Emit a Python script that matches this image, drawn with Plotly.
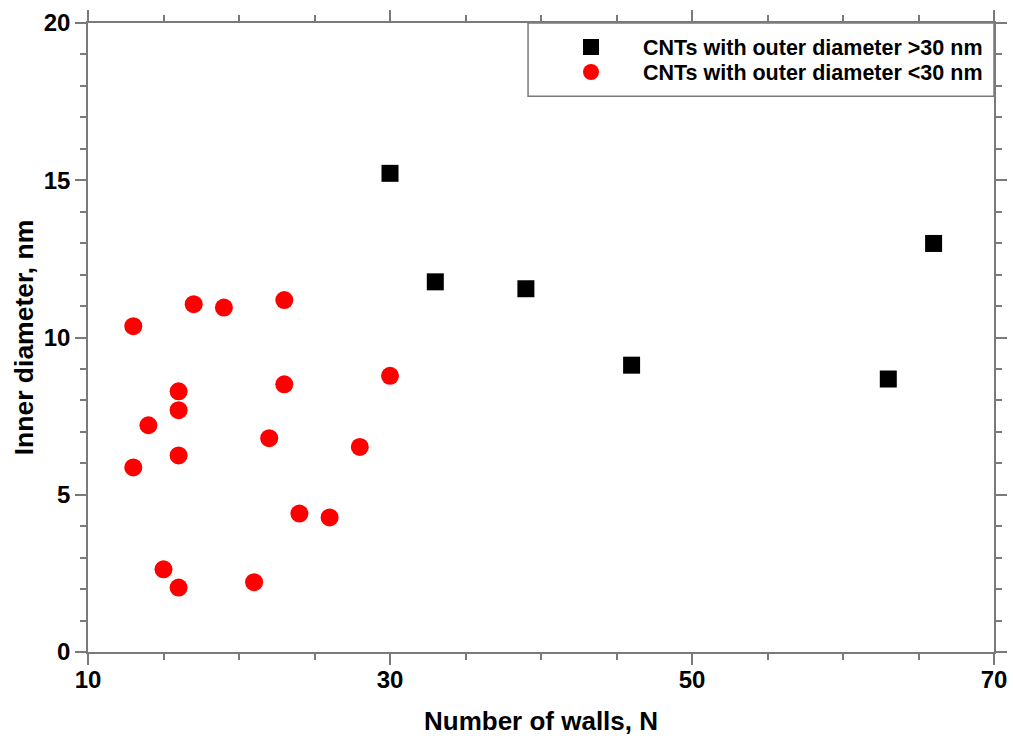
import plotly.graph_objects as go

# Carbon nanotubes: number of walls vs inner diameter
walls_large = [30, 33, 39, 46, 63, 66]
inner_large = [15.22, 11.77, 11.55, 9.12, 8.68, 12.99]

walls_small = [13, 17, 19, 23, 16, 16, 14, 16, 13, 23, 30, 22, 28, 24, 26, 15, 16, 21]
inner_small = [10.36, 11.06, 10.95, 11.19, 8.29, 7.69, 7.21, 6.25, 5.87, 8.51, 8.78,
               6.80, 6.52, 4.40, 4.28, 2.63, 2.05, 2.22]

label_large = "CNTs with outer diameter >30 nm"
label_small = "CNTs with outer diameter <30 nm"

x_ticks = [10, 30, 50, 70]
y_ticks = [0, 5, 10, 15, 20]

FONT = "Liberation Sans, Arial, sans-serif"
AXIS_COLOR = "#7a7a7a"

fig = go.Figure()
fig.add_trace(go.Scatter(
    x=walls_large, y=inner_large, mode="markers", name=label_large,
    marker=dict(symbol="square", size=17, color="black", line=dict(width=0)),
    legend="legend",
))
fig.add_trace(go.Scatter(
    x=walls_small, y=inner_small, mode="markers", name=label_small,
    marker=dict(symbol="circle", size=18, color="#ff0000", line=dict(width=0)),
    legend="legend2",
))

axis_common = dict(
    showline=True, linecolor=AXIS_COLOR, linewidth=1.5,
    ticks="outside", tickcolor=AXIS_COLOR, tickwidth=1.5, ticklen=11,
    mirror="allticks", showgrid=False, zeroline=False,
    tickfont=dict(family=FONT, size=24, color="black", weight="bold"),
)

fig.update_xaxes(
    range=[10, 70], tickvals=x_ticks, **axis_common,
    ticklabelstandoff=-6,
    minor=dict(dtick=5, tick0=10, ticks="outside", ticklen=6,
               tickcolor=AXIS_COLOR, tickwidth=1.5, showgrid=False),
    title=dict(text="Number of walls, N", standoff=20,
               font=dict(family=FONT, size=26, color="black", weight="bold")),
)
fig.update_yaxes(
    range=[0, 20], tickvals=y_ticks, **axis_common,
    minor=dict(dtick=1, tick0=0, ticks="outside", ticklen=6,
               tickcolor=AXIS_COLOR, tickwidth=1.5, showgrid=False),
    title=dict(text="Inner diameter, nm", standoff=2,
               font=dict(family=FONT, size=26.5, color="black", weight="bold")),
)

# Legend frame in the top-right corner of the plotting area
fig.add_shape(type="rect", xref="paper", yref="paper",
              x0=0.4857, x1=1.0, y0=0.8835, y1=1.0,
              line=dict(color=AXIS_COLOR, width=1.5), fillcolor="white", layer="below")

legend_style = dict(
    x=0.4978, xanchor="left", yanchor="middle",
    bgcolor="rgba(0,0,0,0)", borderwidth=0, itemwidth=94,
    font=dict(family=FONT, size=21.5, color="black", weight="bold"),
)

fig.update_layout(
    width=1013, height=743,
    margin=dict(l=88, r=19, t=23, b=91, autoexpand=False),
    paper_bgcolor="white", plot_bgcolor="white",
    showlegend=True,
    legend=dict(y=0.9619, **legend_style),
    legend2=dict(y=0.9221, **legend_style),
)

fig.write_html("out.html")
